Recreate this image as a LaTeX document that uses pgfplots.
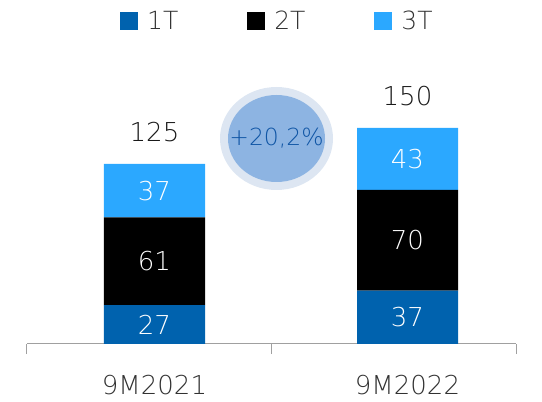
\documentclass[border=0pt]{standalone}
\usepackage{fontspec}
\IfFontExistsTF{DejaVu Sans ExtraLight}
  {\setmainfont{DejaVu Sans ExtraLight}}
  {\setmainfont{DejaVu Sans}}
\usepackage{pgfplots}
\usepackage{pgfplotstable}
\pgfplotsset{compat=1.18}

\definecolor{qone}{RGB}{0,98,174}
\definecolor{qthree}{RGB}{43,168,255}
\definecolor{txtgray}{RGB}{50,50,50}
\definecolor{axgray}{RGB}{160,160,160}
\definecolor{ringout}{RGB}{221,230,242}
\definecolor{ringin}{RGB}{141,180,226}
\definecolor{pctblue}{RGB}{15,85,165}

\pgfplotstableread{
x      q1  q2  q3  tot
154.5  27  61  37  125
407.5  37  70  43  150
}\data

% stacked labels already sit at the middle of their segment
\pgfplotsset{
  seglabels/.style={point meta=explicit, nodes near coords,
    every node near coord/.style={anchor=center, inner sep=0pt,
      text=white, font=\fontsize{26}{26}\selectfont}},
  common/.style={
    at={(27pt,58pt)}, anchor=south west,
    x=1pt, y=1.44pt,
    xmin=27, xmax=516, ymin=0, ymax=190,
    clip=false},
}

\begin{document}
\begin{tikzpicture}
\path[use as bounding box] (0,0) rectangle (542pt,402pt);
\fill[ringout] (276.5pt,263.5pt) ellipse [x radius=56.5pt, y radius=51.5pt];
\fill[ringin] (276.5pt,263.5pt) ellipse [x radius=48.5pt, y radius=43.5pt];
\node[text=pctblue, font=\fontsize{23.5}{23.5}\selectfont, inner sep=0pt]
  at (276.5pt,263.5pt) {+20,2\%};
\begin{axis}[
  common,
  ybar stacked, bar width=101pt,
  axis x line=bottom, axis y line=none,
  axis line style={axgray, line width=1pt, -},
  ytick=\empty,
  xtick={154.5,407.5}, xticklabels={9M2021,9M2022},
  major tick length=0pt,
  xticklabel style={inner sep=0pt, anchor=north, yshift=-31pt,
    text=txtgray, font=\fontsize{26}{26}\selectfont},
  extra x ticks={27,271,516}, extra x tick labels={},
  extra x tick style={major tick length=10pt, tick align=outside,
    tick style={axgray, line width=1pt}},
  /pgf/number format/assume math mode=true,
  legend style={draw=none, fill=none, inner sep=0pt,
    at={(0.19,1.1806)}, anchor=west, legend columns=3,
    nodes={inner sep=0pt}, text=txtgray,
    font=\fontsize{25}{25}\selectfont,
    /tikz/every odd column/.append style={column sep=9pt},
    /tikz/every even column/.append style={column sep=69pt}},
  legend image code/.code={\fill[#1] (0pt,-9pt) rectangle (18pt,9pt);},
]
\addplot[fill=qone, draw=none, seglabels] table[x=x, y=q1, meta=q1] {\data};
\addplot[fill=black, draw=none, seglabels] table[x=x, y=q2, meta=q2] {\data};
\addplot[fill=qthree, draw=none, seglabels] table[x=x, y=q3, meta=q3] {\data};
\legend{1T,2T,3T}
\end{axis}
% totals above the bars
\begin{axis}[common, hide axis,
  /pgf/number format/assume math mode=true]
\addplot[only marks, mark=none, point meta=explicit, nodes near coords,
  every node near coord/.style={anchor=base, yshift=22pt, inner sep=0pt,
    text=black!90, font=\fontsize{26}{26}\selectfont}]
  table[x=x, y=tot, meta=tot] {\data};
\end{axis}
\end{tikzpicture}
\end{document}
